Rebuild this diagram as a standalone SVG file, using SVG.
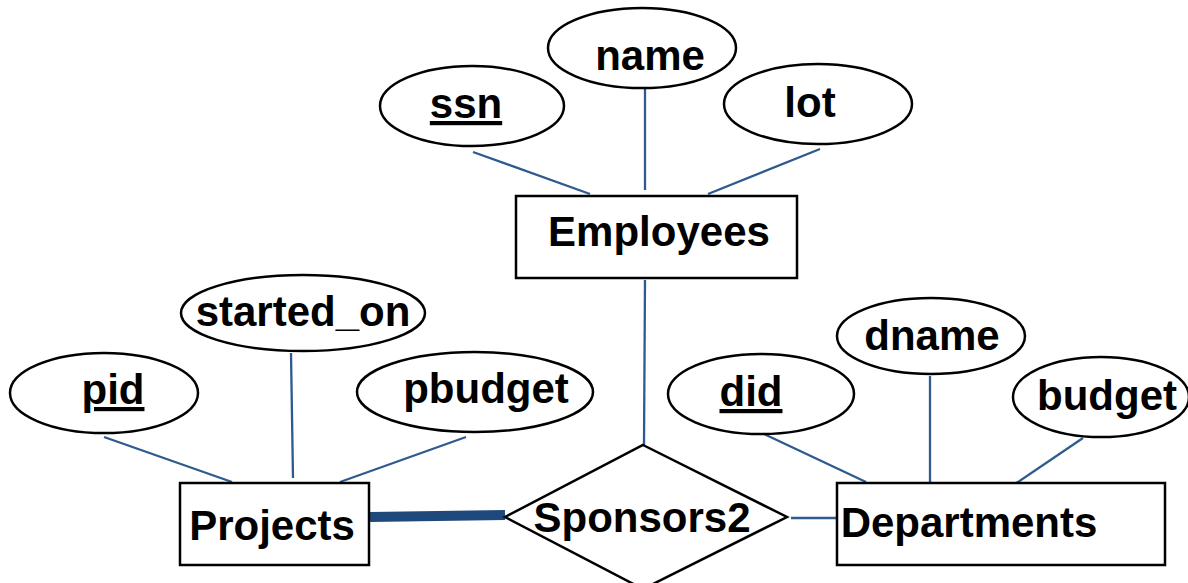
<svg xmlns="http://www.w3.org/2000/svg" width="1188" height="583" viewBox="0 0 1188 583">
<style>
.shape{fill:#fff;stroke:#000;stroke-width:2.5}
.lbl{font-family:"Liberation Sans",Arial,sans-serif;font-weight:bold;font-size:42px;fill:#000;text-anchor:middle}
.key{text-decoration:underline}
.conn{stroke:#2E5A8E;stroke-width:2.3;fill:none}
.total{stroke:#1F497D;stroke-width:10;fill:none}
</style>
<rect width="1188" height="583" fill="#fff"/>
<g id="connectors">
<line class="conn" x1="473" y1="152" x2="590" y2="194"/>
<line class="conn" x1="645" y1="88" x2="645" y2="190"/>
<line class="conn" x1="820" y1="149" x2="708" y2="194"/>
<line class="conn" x1="645" y1="280" x2="644" y2="445"/>
<line class="conn" x1="104" y1="437" x2="232" y2="482"/>
<line class="conn" x1="291" y1="353" x2="293" y2="478"/>
<line class="conn" x1="466" y1="437" x2="340" y2="482"/>
<line class="total" x1="370" y1="517" x2="505" y2="515"/>
<line class="conn" x1="791" y1="518" x2="836" y2="518"/>
<line class="conn" x1="764" y1="434" x2="866" y2="482"/>
<line class="conn" x1="930" y1="376" x2="930" y2="485"/>
<line class="conn" x1="1083" y1="438" x2="1012" y2="486"/>
</g>
<g id="ssn"><ellipse class="shape" cx="472" cy="106" rx="92" ry="40"/><text class="lbl key" x="466" y="118">ssn</text></g>
<g id="name"><ellipse class="shape" cx="642" cy="48" rx="94" ry="40"/><text class="lbl" x="650" y="70">name</text></g>
<g id="lot"><ellipse class="shape" cx="818" cy="104" rx="94" ry="40"/><text class="lbl" x="810" y="117">lot</text></g>
<g id="employees"><rect class="shape" x="516" y="196" width="281" height="82"/><text class="lbl" x="659" y="246">Employees</text></g>
<g id="started_on"><ellipse class="shape" cx="303" cy="313" rx="122" ry="38"/><text class="lbl" x="303" y="326">started_on</text></g>
<g id="pid"><ellipse class="shape" cx="104" cy="393" rx="94" ry="40"/><text class="lbl key" x="113" y="404">pid</text></g>
<g id="pbudget"><ellipse class="shape" cx="475" cy="392" rx="118" ry="40"/><text class="lbl" x="486" y="403">pbudget</text></g>
<g id="projects"><rect class="shape" x="180" y="483" width="189" height="82"/><text class="lbl" x="272" y="540">Projects</text></g>
<g id="sponsors2"><polygon class="shape" points="643,445 787,517 643,589 505,517"/><text class="lbl" x="642" y="532">Sponsors2</text></g>
<g id="did"><ellipse class="shape" cx="761" cy="394" rx="93" ry="40"/><text class="lbl key" x="751" y="406">did</text></g>
<g id="dname"><ellipse class="shape" cx="931" cy="336" rx="94" ry="38"/><text class="lbl" x="932" y="350">dname</text></g>
<g id="budget"><ellipse class="shape" cx="1101" cy="397" rx="88" ry="40"/><text class="lbl" x="1107" y="410">budget</text></g>
<g id="departments"><rect class="shape" x="837" y="483" width="328" height="82"/><text class="lbl" x="969" y="537">Departments</text></g>
</svg>
